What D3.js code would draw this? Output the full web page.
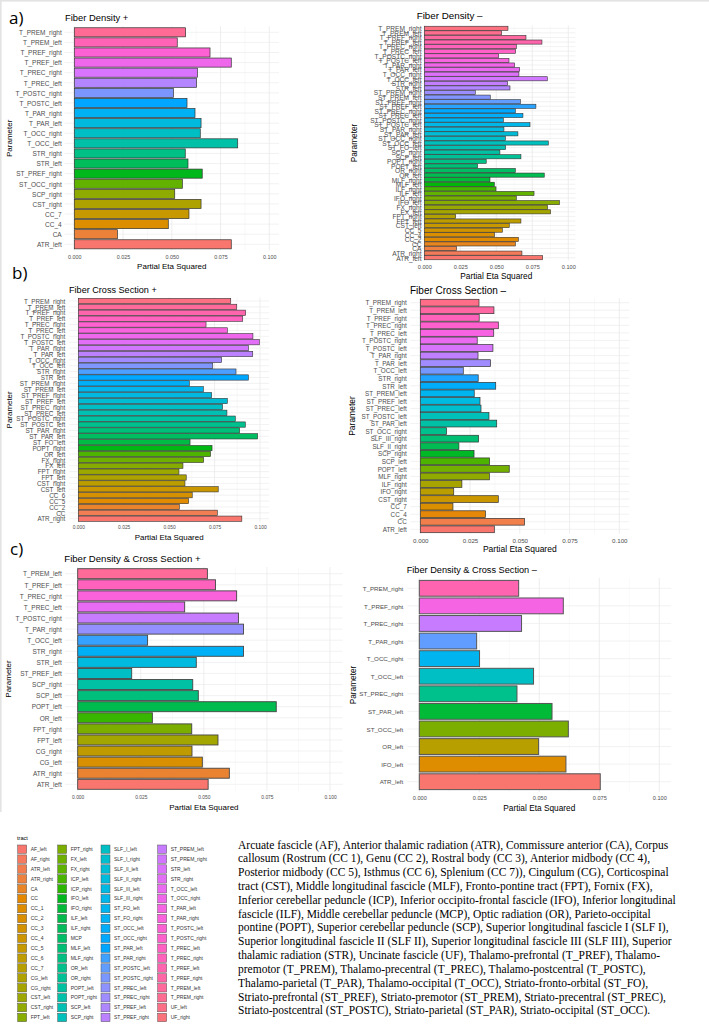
<!DOCTYPE html>
<html>
<head>
<meta charset="utf-8">
<script src="https://cdn.jsdelivr.net/npm/d3@7"></script>
<style>
  html, body { margin: 0; padding: 0; background: #ffffff; }
  svg { display: block; }
</style>
</head>
<body>
<svg id="chart" width="709" height="1026"></svg>
<script>
// ---------------- DATA ----------------
const xTicks = [0, 0.025, 0.05, 0.075, 0.1];

const fdPosCats = ["T_PREM_right","T_PREM_left","T_PREF_right","T_PREF_left","T_PREC_right","T_PREC_left","T_POSTC_right","T_POSTC_left","T_PAR_right","T_PAR_left","T_OCC_right","T_OCC_left","STR_right","STR_left","ST_PREF_right","ST_OCC_right","SCP_right","CST_right","CC_7","CC_4","CA","ATR_left"];
const fdPosVals = [0.0571,0.0528,0.0696,0.0805,0.0631,0.0627,0.0508,0.0578,0.0619,0.0650,0.0646,0.0838,0.0569,0.0583,0.0656,0.0554,0.0515,0.0650,0.0588,0.0482,0.0221,0.0805];

const fdNegCats = ["T_PREM_right","T_PREM_left","T_PREF_right","T_PREF_left","T_PREC_right","T_PREC_left","T_POSTC_right","T_POSTC_left","T_PAR_right","T_PAR_left","T_OCC_right","T_OCC_left","STR_right","STR_left","ST_PREM_right","ST_PREM_left","ST_PREF_right","ST_PREF_left","ST_PREC_right","ST_PREC_left","ST_POSTC_right","ST_POSTC_left","ST_PAR_right","ST_PAR_left","ST_OCC_right","ST_OCC_left","ST_FO_left","SCP_right","SCP_left","POPT_right","POPT_left","OR_right","OR_left","MLF_right","MLF_left","ILF_right","ILF_left","IFO_right","IFO_left","FX_right","FX_left","FPT_right","FPT_left","CST_left","CC_5","CC_4","CC_2","CC","CA","ATR_right","ATR_left"];
const fdNegVals = [0.0581,0.0537,0.0706,0.0817,0.0639,0.0634,0.0516,0.0588,0.0627,0.0662,0.0657,0.0854,0.0579,0.0595,0.0354,0.0458,0.0667,0.0775,0.0632,0.0685,0.0549,0.0734,0.0553,0.0650,0.0563,0.0861,0.0565,0.0525,0.0671,0.0430,0.0370,0.0632,0.0833,0.0456,0.0486,0.0498,0.0762,0.0639,0.0938,0.0856,0.0877,0.0218,0.0671,0.0590,0.0542,0.0488,0.0653,0.0632,0.0225,0.0678,0.0822];

const fcPosCats = ["T_PREM_right","T_PREM_left","T_PREF_right","T_PREF_left","T_PREC_right","T_PREC_left","T_POSTC_right","T_POSTC_left","T_PAR_right","T_PAR_left","T_OCC_right","T_OCC_left","STR_right","STR_left","ST_PREM_right","ST_PREM_left","ST_PREF_right","ST_PREF_left","ST_PREC_right","ST_PREC_left","ST_POSTC_right","ST_POSTC_left","ST_PAR_right","ST_PAR_left","ST_FO_left","POPT_right","OR_left","FX_right","FX_left","FPT_right","FPT_left","CST_right","CST_left","CC_6","CC_5","CC_2","CC","ATR_right"];
const fcPosVals = [0.0839,0.0872,0.0921,0.0905,0.0703,0.0820,0.0961,0.0996,0.0936,0.0960,0.0789,0.0740,0.0868,0.0936,0.0611,0.0688,0.0734,0.0820,0.0794,0.0818,0.0864,0.0919,0.0888,0.0987,0.0615,0.0736,0.0728,0.0690,0.0576,0.0554,0.0594,0.0587,0.0770,0.0627,0.0607,0.0556,0.0765,0.0900];

const fcNegCats = ["T_PREM_right","T_PREM_left","T_PREF_right","T_PREC_right","T_PREC_left","T_POSTC_right","T_POSTC_left","T_PAR_right","T_PAR_left","T_OCC_left","STR_right","STR_left","ST_PREM_left","ST_PREF_left","ST_PREC_left","ST_POSTC_left","ST_PAR_left","ST_OCC_right","SLF_III_right","SLF_II_right","SCP_right","SCP_left","POPT_left","MLF_right","ILF_right","IFO_right","CST_right","CC_7","CC_4","CC","ATR_left"];
const fcNegVals = [0.0295,0.0370,0.0296,0.0392,0.0369,0.0286,0.0365,0.0290,0.0353,0.0216,0.0291,0.0379,0.0271,0.0300,0.0305,0.0345,0.0384,0.0132,0.0293,0.0194,0.0270,0.0348,0.0447,0.0347,0.0209,0.0168,0.0392,0.0164,0.0327,0.0524,0.0372];

const fdcPosCats = ["T_PREM_left","T_PREF_left","T_PREC_right","T_PREC_left","T_POSTC_right","T_PAR_right","T_OCC_left","STR_right","STR_left","ST_PREF_left","SCP_right","SCP_left","POPT_left","OR_left","FPT_right","FPT_left","CG_right","CG_left","ATR_right","ATR_left"];
const fdcPosVals = [0.0514,0.0546,0.0630,0.0424,0.0637,0.0657,0.0277,0.0657,0.0470,0.0214,0.0456,0.0478,0.0787,0.0296,0.0452,0.0556,0.0453,0.0494,0.0601,0.0517];

const fdcNegCats = ["T_PREM_right","T_PREF_right","T_PREC_right","T_PAR_right","T_OCC_right","T_OCC_left","ST_PREC_right","ST_PAR_left","ST_OCC_left","OR_left","IFO_left","ATR_left"];
const fdcNegVals = [0.0414,0.0600,0.0426,0.0239,0.0251,0.0476,0.0407,0.0553,0.0621,0.0497,0.0611,0.0754];

const legendTracts = ["AF_left","AF_right","ATR_left","ATR_right","CA","CC","CC_1","CC_2","CC_3","CC_4","CC_5","CC_6","CC_7","CG_left","CG_right","CST_left","CST_right","FPT_left",
  "FPT_right","FX_left","FX_right","ICP_left","ICP_right","IFO_left","IFO_right","ILF_left","ILF_right","MCP","MLF_left","MLF_right","OR_left","OR_right","POPT_left","POPT_right","SCP_left","SCP_right",
  "SLF_I_left","SLF_I_right","SLF_II_left","SLF_II_right","SLF_III_left","SLF_III_right","ST_FO_left","ST_FO_right","ST_OCC_left","ST_OCC_right","ST_PAR_left","ST_PAR_right","ST_POSTC_left","ST_POSTC_right","ST_PREC_left","ST_PREC_right","ST_PREF_left","ST_PREF_right",
  "ST_PREM_left","ST_PREM_right","STR_left","STR_right","T_OCC_left","T_OCC_right","T_PAR_left","T_PAR_right","T_POSTC_left","T_POSTC_right","T_PREC_left","T_PREC_right","T_PREF_left","T_PREF_right","T_PREM_left","T_PREM_right","UF_left","UF_right"];

const captionLines = [
  "Arcuate fascicle (AF), Anterior thalamic radiation (ATR), Commissure anterior (CA), Corpus",
  "callosum (Rostrum (CC 1), Genu (CC 2), Rostral body (CC 3), Anterior midbody (CC 4),",
  "Posterior midbody (CC 5), Isthmus (CC 6), Splenium (CC 7)), Cingulum (CG), Corticospinal",
  "tract (CST), Middle longitudinal fascicle (MLF), Fronto-pontine tract (FPT), Fornix (FX),",
  "Inferior cerebellar peduncle (ICP), Inferior occipito-frontal fascicle (IFO), Inferior longitudinal",
  "fascicle (ILF), Middle cerebellar peduncle (MCP), Optic radiation (OR), Parieto-occipital",
  "pontine (POPT), Superior cerebellar peduncle (SCP), Superior longitudinal fascicle I (SLF I),",
  "Superior longitudinal fascicle II (SLF II), Superior longitudinal fascicle III (SLF III), Superior",
  "thalamic radiation (STR), Uncinate fascicle (UF), Thalamo-prefrontal (T_PREF), Thalamo-",
  "premotor (T_PREM), Thalamo-precentral (T_PREC), Thalamo-postcentral (T_POSTC),",
  "Thalamo-parietal (T_PAR), Thalamo-occipital (T_OCC), Striato-fronto-orbital (ST_FO),",
  "Striato-prefrontal (ST_PREF), Striato-premotor (ST_PREM), Striato-precentral (ST_PREC),",
  "Striato-postcentral (ST_POSTC), Striato-parietal (ST_PAR), Striato-occipital (ST_OCC)."
];

// ---------------- HELPERS ----------------
// ggplot2 default hue palette (polar LUV HCL, c=100, l=65)
function hclLuv(h, c, l) {
  const hr = h * Math.PI / 180;
  const u = c * Math.cos(hr), v = c * Math.sin(hr);
  const Xn = 95.047, Yn = 100, Zn = 108.883;
  const den = Xn + 15 * Yn + 3 * Zn;
  const un = 4 * Xn / den, vn = 9 * Yn / den;
  const Y = l > 8 ? Yn * Math.pow((l + 16) / 116, 3) : Yn * l / 903.3;
  const up = u / (13 * l) + un, vp = v / (13 * l) + vn;
  const X = Y * 9 * up / (4 * vp);
  const Z = Y * (12 - 3 * up - 20 * vp) / (4 * vp);
  const x = X / 100, y = Y / 100, z = Z / 100;
  let r = 3.2404542 * x - 1.5371385 * y - 0.4985314 * z;
  let g = -0.9692660 * x + 1.8760108 * y + 0.0415560 * z;
  let b = 0.0556434 * x - 0.2040259 * y + 1.0572252 * z;
  const gam = t => { t = t <= 0.0031308 ? 12.92 * t : 1.055 * Math.pow(t, 1 / 2.4) - 0.055; return Math.round(Math.max(0, Math.min(1, t)) * 255); };
  return d3.rgb(gam(r), gam(g), gam(b)).formatHex();
}
function huePal(n) {
  const out = [];
  for (let i = 0; i < n; i++) out.push(hclLuv(15 + 360 * i / n, 100, 65));
  return out;
}

const svg = d3.select("#chart");
const SANS = "'Liberation Sans', Arial, Helvetica, sans-serif";

// light grey frame of the pasted figure (top and left edges)
svg.append("rect").attr("x", 0).attr("y", 0).attr("width", 709).attr("height", 1.6).attr("fill", "#e3e3e3");
svg.append("rect").attr("x", 0).attr("y", 0).attr("width", 1.6).attr("height", 812).attr("fill", "#e3e3e3");

function drawPanel(cfg, cats, vals) {
  const g = svg.append("g");
  const n = cats.length;
  // colour levels are sorted alphabetically bottom -> top (reverse of display order)
  const levels = cats.slice().reverse();
  const pal = huePal(n);
  const color = d3.scaleOrdinal().domain(levels).range(pal);

  const x = d3.scaleLinear().domain([0, 0.1]).range([cfg.x0, cfg.x1]);
  const y = d3.scalePoint().domain(cats).range([cfg.yFirst, cfg.yLast]);
  const step = y.step();
  const top = cfg.yFirst - 0.6 * step, bottom = cfg.yLast + 0.6 * step;
  const left = x(-0.005), right = x(0.105);

  // minor vertical grid
  const minor = [0.0125, 0.0375, 0.0625, 0.0875];
  g.append("g").selectAll("line").data(minor).join("line")
    .attr("x1", d => x(d)).attr("x2", d => x(d)).attr("y1", top).attr("y2", bottom)
    .attr("stroke", "#f0f0f0").attr("stroke-width", 0.4);
  // major vertical grid
  g.append("g").selectAll("line").data(xTicks).join("line")
    .attr("x1", d => x(d)).attr("x2", d => x(d)).attr("y1", top).attr("y2", bottom)
    .attr("stroke", "#e6e6e6").attr("stroke-width", 0.7);
  // horizontal grid
  g.append("g").selectAll("line").data(cats).join("line")
    .attr("x1", left).attr("x2", right).attr("y1", d => y(d)).attr("y2", d => y(d))
    .attr("stroke", "#e9e9e9").attr("stroke-width", 0.6);

  // bars
  const bh = step * 0.9;
  g.append("g").selectAll("rect").data(cats.map((c, i) => ({ c, v: vals[i] }))).join("rect")
    .attr("x", x(0)).attr("y", d => y(d.c) - bh / 2)
    .attr("width", d => x(d.v) - x(0)).attr("height", bh)
    .attr("fill", d => color(d.c))
    .attr("stroke", cfg.stroke).attr("stroke-width", cfg.strokeW);

  // y axis labels
  const yAxis = d3.axisLeft(y).tickSize(0).tickPadding(0);
  const ya = g.append("g").attr("transform", `translate(${cfg.labelRight},0)`).call(yAxis);
  ya.select(".domain").remove();
  ya.selectAll("text").attr("font-family", SANS).attr("font-size", cfg.labelFs).attr("fill", "#4d4d4d").attr("dy", "0.35em").attr("x", 0);

  // x axis labels
  const xAxis = d3.axisBottom(x).tickValues(xTicks).tickFormat(d3.format(".3f")).tickSize(0).tickPadding(0);
  const xa = g.append("g").attr("transform", `translate(0,${cfg.tickY})`).call(xAxis);
  xa.select(".domain").remove();
  xa.selectAll("text").attr("font-family", SANS).attr("font-size", cfg.tickFs).attr("fill", "#4d4d4d").attr("dy", "0.35em").attr("y", 0);

  // axis title
  g.append("text").attr("x", (cfg.x0 + cfg.x1) / 2).attr("y", cfg.axisTitleY)
    .attr("text-anchor", "middle").attr("font-family", SANS).attr("font-size", cfg.axisFs).attr("fill", "#000")
    .text("Partial Eta Squared");
  // y title
  g.append("text").attr("transform", `translate(${cfg.paramX},${(top + bottom) / 2}) rotate(-90)`)
    .attr("text-anchor", "middle").attr("dy", "0.35em").attr("font-family", SANS).attr("font-size", cfg.axisFs).attr("fill", "#000")
    .text("Parameter");
  // plot title
  g.append("text").attr("x", cfg.titleX).attr("y", cfg.titleY)
    .attr("font-family", SANS).attr("font-size", cfg.titleFs).attr("fill", "#000")
    .text(cfg.title);
}

// ---------------- PANELS ----------------
drawPanel({ title: "Fiber Density +", x0: 74.3, x1: 269.3, yFirst: 32.3, yLast: 244.3, labelRight: 61.7, labelFs: 6.5,
  tickY: 256.7, tickFs: 5.4, titleX: 65, titleY: 21.3, titleFs: 9.4, axisTitleY: 268.5, axisFs: 8, paramX: 9.3,
  stroke: "#333", strokeW: 0.7 }, fdPosCats, fdPosVals);

drawPanel({ title: "Fiber Density \u2013", x0: 424.3, x1: 568.3, yFirst: 28.3, yLast: 257.7, labelRight: 421.5, labelFs: 6.6,
  tickY: 266.7, tickFs: 5.6, titleX: 416.7, titleY: 19.2, titleFs: 9.8, axisTitleY: 279, axisFs: 8.3, paramX: 354,
  stroke: "#333", strokeW: 0.6 }, fdNegCats, fdNegVals);

drawPanel({ title: "Fiber Cross Section +", x0: 78.3, x1: 260, yFirst: 301, yLast: 518.7, labelRight: 65.3, labelFs: 6.3,
  tickY: 527.3, tickFs: 4.9, titleX: 69, titleY: 293.2, titleFs: 9.1, axisTitleY: 539.5, axisFs: 7.95, paramX: 9.3,
  stroke: "#333", strokeW: 0.6 }, fcPosCats, fcPosVals);

drawPanel({ title: "Fiber Cross Section \u2013", x0: 420.3, x1: 619.3, yFirst: 302.7, yLast: 529.3, labelRight: 406.7, labelFs: 6.3,
  tickY: 540.7, tickFs: 6.2, titleX: 410, titleY: 293.5, titleFs: 10, axisTitleY: 552, axisFs: 8.5, paramX: 351.7,
  stroke: "#333", strokeW: 0.7 }, fcNegCats, fcNegVals);

drawPanel({ title: "Fiber Density & Cross Section +", x0: 77.7, x1: 330, yFirst: 573.7, yLast: 784.3, labelRight: 61.7, labelFs: 6.5,
  tickY: 797.3, tickFs: 4.9, titleX: 64.3, titleY: 561.5, titleFs: 9.6, axisTitleY: 809.5, axisFs: 8, paramX: 8.3,
  stroke: "#444", strokeW: 0.9 }, fdcPosCats, fdcPosVals);

drawPanel({ title: "Fiber Density & Cross Section \u2013", x0: 419.3, x1: 659.3, yFirst: 588.3, yLast: 781.7, labelRight: 403.3, labelFs: 6.2,
  tickY: 798.3, tickFs: 5.6, titleX: 406.7, titleY: 573, titleFs: 9.2, axisTitleY: 810.5, axisFs: 8.3, paramX: 353.3,
  stroke: "#555", strokeW: 1 }, fdcNegCats, fdcNegVals);

// panel letters
[["a)", 9, 24], ["b)", 12, 279], ["c)", 10, 555]].forEach(([t, px, py]) => {
  svg.append("text").attr("x", px).attr("y", py).attr("font-family", "'Open Sans', 'Liberation Sans', sans-serif")
    .attr("font-size", 17).attr("fill", "#000").text(t);
});

// ---------------- LEGEND ----------------
const legPal = huePal(legendTracts.length);
const legColor = d3.scaleOrdinal().domain(legendTracts).range(legPal);
const colX = [17.7, 57.7, 101, 157.7];
const rowsPerCol = 18;
const leg = svg.append("g");
leg.append("text").attr("x", 17).attr("y", 840).attr("font-family", SANS).attr("font-size", 5.6).attr("fill", "#000").text("tract");
const legItems = leg.selectAll("g.item").data(legendTracts).join("g").attr("class", "item")
  .attr("transform", (d, i) => `translate(${colX[Math.floor(i / rowsPerCol)]},${845 + (i % rowsPerCol) * 9.9})`);
legItems.append("rect").attr("width", 9).attr("height", 8.4)
  .attr("fill", d => legColor(d)).attr("stroke", "#555").attr("stroke-width", 0.5);
legItems.append("text").attr("x", 13).attr("y", 4.2).attr("dy", "0.35em")
  .attr("font-family", SANS).attr("font-size", 5).attr("fill", "#333").text(d => d);

// ---------------- CAPTION ----------------
svg.append("g").selectAll("text").data(captionLines).join("text")
  .attr("x", 238).attr("y", (d, i) => 848.5 + i * 13.83)
  .attr("font-family", "'Liberation Serif', 'Times New Roman', serif").attr("font-size", 11.5).attr("fill", "#000")
  .text(d => d);
</script>
</body>
</html>
